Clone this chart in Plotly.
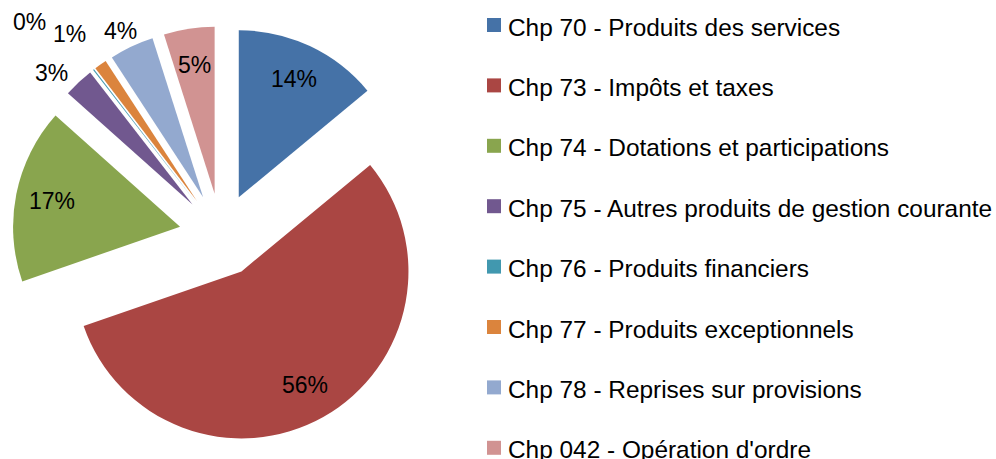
import math
import plotly.graph_objects as go

categories = [
    "Chp 70 - Produits des services",
    "Chp 73 - Impôts et taxes",
    "Chp 74 - Dotations et participations",
    "Chp 75 - Autres produits de gestion courante",
    "Chp 76 - Produits financiers",
    "Chp 77 - Produits exceptionnels",
    "Chp 78 - Reprises sur provisions",
    "Chp 042 - Opération d'ordre",
]
values = [14.0, 55.7, 16.9, 2.9, 0.1, 1.2, 4.3, 4.9]
colors = ["#4572A7", "#AA4643", "#89A54E", "#71588F", "#4198AF", "#DB843D", "#93A9CF", "#D19392"]
inside_label = [True, True, True, False, False, False, False, True]
# label placement style: inside labels at a fraction of the radius,
# outside labels at extra radial distance (px) with an angular nudge (deg)
INSIDE_FRAC = 0.78
outside_extra = [0, 0, 0, 26, 78, 43, 19, 0]
outside_nudge = [0, 0, 0, -4, -5, -2, -1, 0]

W, H = 996, 459
FONT = "Liberation Sans, Arial, sans-serif"
PULL = 0.25
CX, CY, R = 221.0, 235.0, 167.0  # pie centre / radius in pixels
box = 2 * R * (1 + PULL)
dom_x = [(CX - box / 2) / W, (CX + box / 2) / W]
dom_y = [1 - (CY + box / 2) / H, 1 - (CY - box / 2) / H]

fig = go.Figure()
fig.add_trace(go.Pie(
    labels=categories,
    values=values,
    sort=False,
    direction="clockwise",
    rotation=0,
    pull=[PULL] * len(values),
    marker=dict(colors=colors, line=dict(width=0)),
    textinfo="none",
    showlegend=False,
    hoverinfo="label+percent",
    domain=dict(x=dom_x, y=dom_y),
))

annotations = []
total = sum(values)
cum = 0.0
for i, v in enumerate(values):
    mid = (cum + v / 2) / total * 360.0
    cum += v
    a = math.radians(mid)
    ex = CX + PULL * R * math.sin(a)
    ey = CY - PULL * R * math.cos(a)
    if inside_label[i]:
        rr, b = R * INSIDE_FRAC, a
    else:
        rr, b = R + outside_extra[i], math.radians(mid + outside_nudge[i])
    lx = ex + rr * math.sin(b)
    ly = ey - rr * math.cos(b)
    annotations.append(dict(
        x=lx / W, y=1 - ly / H, xref="paper", yref="paper",
        text=f"{round(v / total * 100):.0f}%", showarrow=False,
        xanchor="center", yanchor="middle",
        font=dict(family=FONT, size=23, color="black"),
    ))

# legend (drawn manually to match the original spacing)
LEG_X, LEG_Y0, LEG_DY, SQ = 487.0, 25.0, 60.4, 14.0
shapes = []
for i, (name, col) in enumerate(zip(categories, colors)):
    yc = LEG_Y0 + LEG_DY * i
    shapes.append(dict(
        type="rect", xref="paper", yref="paper",
        x0=LEG_X / W, x1=(LEG_X + SQ) / W,
        y0=1 - (yc + SQ / 2) / H, y1=1 - (yc - SQ / 2) / H,
        fillcolor=col, line=dict(width=0),
    ))
    annotations.append(dict(
        x=(LEG_X + SQ + 5) / W, y=1 - (yc + 2) / H, xref="paper", yref="paper",
        text=name, showarrow=False, xanchor="left", yanchor="middle",
        font=dict(family=FONT, size=24.4, color="black"),
    ))

fig.update_layout(
    width=W, height=H,
    margin=dict(l=0, r=0, t=0, b=0),
    paper_bgcolor="white", plot_bgcolor="white",
    showlegend=False,
    annotations=annotations,
    shapes=shapes,
)

fig.write_html(
    "out.html",
    config={"displayModeBar": False},
    post_script="document.body.style.margin='0';",
)
